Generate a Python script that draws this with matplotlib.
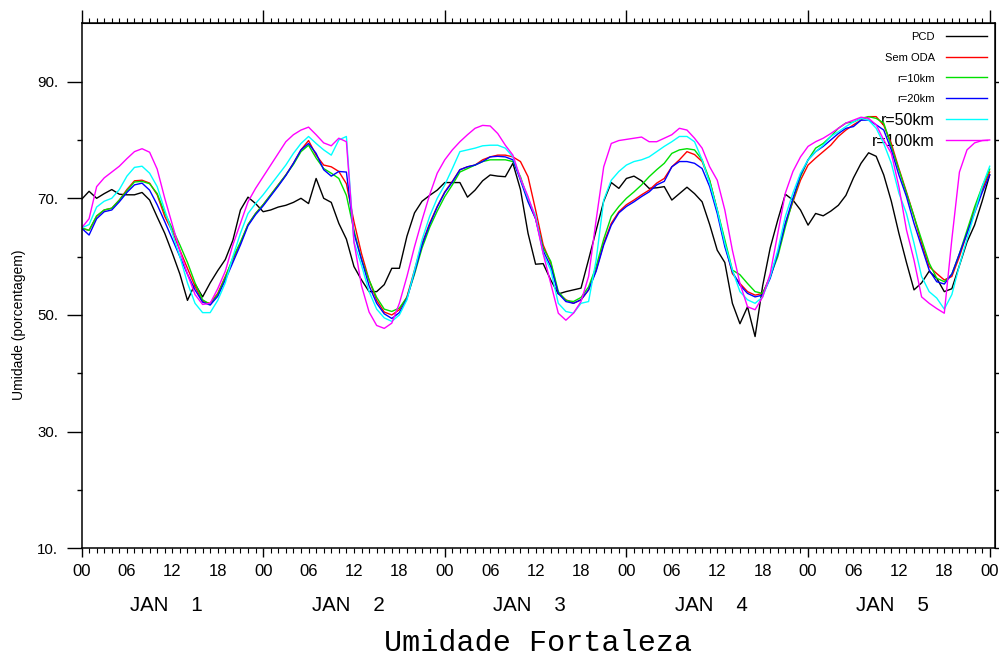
import matplotlib
matplotlib.use('Agg')
import matplotlib.pyplot as plt
import numpy as np
from matplotlib.ticker import FixedLocator, FuncFormatter, NullFormatter
from matplotlib.transforms import offset_copy

plt.rcParams['font.family'] = ['Liberation Sans', 'DejaVu Sans']

# hourly values, 00Z JAN 1 -> 00Z JAN 6
hours = np.arange(121)

pcd = [69.8, 71.2, 70.0, 70.8, 71.5, 70.7, 70.6, 70.6, 71.0, 69.7, 66.8, 64.0,
       60.6, 57.0, 52.5, 55.3, 53.1, 55.5, 57.6, 59.5, 62.8, 68.0, 70.2, 69.1,
       67.7, 68.0, 68.5, 68.8, 69.3, 70.0, 69.1, 73.4, 70.0, 69.3, 65.7, 63.0,
       58.3, 56.0, 54.0, 54.0, 55.2, 58.0, 58.0, 63.5, 67.5, 69.5, 70.5, 71.4,
       72.7, 72.7, 72.7, 70.2, 71.4, 73.0, 74.0, 73.8, 73.7, 76.0, 71.5, 64.0,
       58.7, 58.8, 56.0, 53.6, 54.0, 54.3, 54.6, 59.5, 64.5, 69.5, 72.7, 71.7,
       73.4, 73.8, 73.0, 71.7, 71.8, 72.0, 69.7, 70.8, 71.9, 70.8, 69.4, 65.5,
       61.1, 59.0, 52.0, 48.5, 51.4, 46.3, 55.0, 61.5, 66.3, 70.7, 69.7, 68.0,
       65.4, 67.4, 67.0, 67.8, 68.8, 70.5, 73.5, 76.0, 77.8, 77.2, 74.0, 69.5,
       64.0, 59.0, 54.3, 55.5, 57.5, 56.3, 54.0, 54.5, 58.5, 62.5, 65.4, 69.5,
       74.0]

sem_oda = [64.9, 64.5, 66.9, 68.0, 68.3, 69.7, 71.5, 73.0, 73.1, 72.6, 70.6, 66.9,
           64.3, 61.1, 58.0, 54.9, 52.3, 52.0, 53.7, 56.6, 59.5, 62.3, 65.5, 67.4,
           68.9, 70.6, 72.3, 74.0, 76.0, 78.3, 79.9, 77.4, 75.7, 75.4, 74.6, 72.5,
           66.0, 60.5, 56.0, 52.5, 50.5, 50.0, 50.9, 53.1, 57.7, 62.3, 65.7, 68.6,
           71.1, 72.9, 74.9, 75.4, 75.7, 76.6, 77.1, 77.4, 77.4, 77.1, 76.3, 73.7,
           68.0, 62.0, 58.9, 53.7, 52.6, 52.0, 52.6, 54.3, 57.7, 62.3, 65.7, 67.7,
           68.9, 69.7, 70.6, 71.4, 72.6, 73.4, 75.4, 76.6, 78.0, 77.5, 76.3, 73.0,
           68.0, 62.3, 57.1, 55.4, 54.0, 53.4, 53.7, 56.6, 60.6, 65.7, 69.4, 73.1,
           75.7, 76.9, 78.0, 79.1, 80.6, 81.7, 82.6, 83.4, 84.0, 84.0, 82.5, 79.4,
           75.1, 71.1, 66.9, 62.3, 58.3, 57.1, 56.0, 56.6, 60.0, 64.0, 68.0, 71.5,
           74.5]

r10 = [64.9, 64.5, 67.0, 68.0, 68.3, 69.7, 71.3, 72.8, 72.9, 72.5, 70.8, 67.5,
       64.8, 62.0, 59.0, 55.5, 52.6, 51.8, 53.5, 56.4, 59.8, 62.5, 65.5, 67.4,
       68.9, 70.6, 72.3, 74.0, 75.8, 78.0, 79.1, 76.9, 75.1, 74.3, 73.4, 70.5,
       64.5, 59.5, 56.0, 53.0, 51.0, 50.6, 51.2, 53.0, 57.0, 61.5, 65.0, 67.8,
       70.3, 72.3, 74.5, 75.1, 75.7, 76.3, 76.6, 76.6, 76.6, 76.3, 73.7, 69.7,
       66.5, 61.5, 59.2, 54.0, 52.5, 52.3, 53.0, 54.8, 58.3, 63.0, 66.9, 68.6,
       70.0, 71.1, 72.3, 73.7, 74.9, 76.0, 77.7, 78.3, 78.5, 78.3, 76.6, 73.1,
       68.0, 62.9, 57.7, 56.9, 55.4, 54.0, 53.7, 56.6, 60.0, 65.1, 69.7, 73.7,
       76.6, 78.6, 79.4, 80.6, 82.0, 82.9, 83.1, 83.7, 84.0, 83.7, 82.9, 78.9,
       74.9, 70.9, 66.9, 62.9, 58.9, 56.3, 55.7, 57.0, 60.5, 64.5, 68.5, 72.0,
       75.0]

r20 = [64.9, 63.7, 66.5, 67.7, 68.0, 69.4, 71.0, 72.3, 72.6, 71.4, 68.9, 66.0,
       63.0, 60.0, 57.0, 54.3, 52.2, 51.7, 53.2, 56.0, 59.0, 62.0, 65.3, 67.2,
       68.7, 70.4, 72.1, 73.9, 76.0, 78.3, 79.4, 77.7, 74.9, 73.8, 74.6, 74.5,
       64.0, 59.5, 55.0, 52.0, 50.2, 49.4, 50.4, 52.8, 57.3, 62.0, 65.5, 68.5,
       71.0, 72.8, 74.9, 75.4, 75.7, 76.3, 77.1, 77.2, 77.1, 76.6, 73.1, 69.4,
       66.5, 61.0, 58.3, 53.7, 52.3, 52.0, 52.6, 54.3, 57.5, 62.0, 65.4, 67.5,
       68.6, 69.4, 70.3, 71.1, 72.3, 72.9, 75.4, 76.3, 76.3, 76.0, 75.1, 72.0,
       67.4, 61.7, 57.4, 55.1, 53.7, 53.1, 53.4, 56.3, 60.6, 65.7, 70.0, 74.0,
       76.6, 78.0, 78.9, 80.0, 81.1, 82.0, 82.3, 83.4, 83.4, 82.6, 81.7, 78.3,
       74.0, 70.3, 65.7, 61.7, 57.7, 55.7, 55.3, 57.0, 60.5, 64.0, 67.5, 71.0,
       74.0]

r50 = [64.9, 65.5, 68.5, 69.5, 70.0, 71.5, 73.8, 75.3, 75.5, 74.3, 72.0, 68.0,
       64.0, 60.0, 55.5, 52.0, 50.4, 50.4, 52.5, 55.5, 60.0, 64.0, 67.4, 69.1,
       70.6, 72.3, 74.0, 75.7, 77.7, 79.4, 80.6, 79.4, 78.3, 77.4, 80.0, 80.6,
       62.5, 58.5, 54.0, 51.0, 49.5, 48.9, 50.0, 52.6, 57.7, 62.9, 66.9, 70.0,
       72.3, 75.1, 78.0, 78.3, 78.6, 79.0, 79.1, 79.1, 78.6, 77.1, 73.4, 70.0,
       67.0, 60.5, 57.7, 52.0, 50.6, 50.3, 52.0, 52.3, 59.4, 69.7, 73.1, 74.6,
       75.7, 76.3, 76.6, 77.1, 78.0, 78.9, 79.7, 80.6, 80.6, 79.7, 76.6, 72.6,
       68.0, 62.3, 57.7, 54.0, 52.6, 52.0, 53.1, 56.6, 61.1, 66.9, 70.9, 74.3,
       76.6, 78.0, 79.1, 80.6, 81.4, 82.3, 83.1, 83.7, 83.4, 82.0, 79.4, 76.0,
       70.9, 67.4, 62.3, 56.6, 54.0, 52.9, 51.0, 53.5, 58.5, 63.0, 67.5, 72.0,
       75.5]

r100 = [64.9, 66.5, 72.0, 73.5, 74.5, 75.5, 76.8, 78.0, 78.5, 77.9, 75.0, 70.0,
        65.5, 61.0, 57.0, 53.5, 51.8, 52.0, 54.5, 57.5, 62.0, 65.7, 69.4, 71.7,
        73.7, 75.7, 77.7, 79.7, 80.9, 81.7, 82.2, 80.9, 79.5, 79.0, 80.3, 79.7,
        62.5, 55.0, 50.5, 48.2, 47.7, 48.6, 52.0, 56.6, 61.7, 66.3, 70.6, 74.3,
        76.6, 78.3, 79.7, 80.9, 82.0, 82.5, 82.4, 81.1, 79.1, 77.4, 73.4, 70.3,
        66.5, 60.5, 55.4, 50.3, 49.1, 50.3, 52.3, 56.6, 66.3, 75.4, 79.4, 79.9,
        80.1, 80.3, 80.5, 79.7, 79.7, 80.3, 80.9, 82.0, 81.7, 80.3, 78.6, 75.4,
        73.1, 68.0, 61.1, 55.4, 51.4, 50.9, 53.1, 57.1, 64.0, 70.9, 74.6, 77.1,
        78.9, 79.7, 80.3, 81.1, 82.0, 82.9, 83.4, 83.9, 83.7, 82.6, 80.0, 77.7,
        72.0, 64.6, 59.4, 53.1, 52.0, 51.1, 50.3, 63.0, 74.5, 78.3, 79.5, 79.9,
        80.0]

series_names = ['PCD', 'Sem ODA', 'r=10km', 'r=20km', 'r=50km', 'r=100km']
series_colors = ['black', '#ff0000', '#00e000', '#0000ff', '#00ffff', '#ff00ff']
day_labels = ['JAN    1', 'JAN    2', 'JAN    3', 'JAN    4', 'JAN    5']
day_starts = [0, 24, 48, 72, 96, 120]
y_labeled = [10, 30, 50, 70, 90]

fig = plt.figure(figsize=(9.99, 6.59), dpi=100)
fig.patch.set_facecolor('white')
ax = fig.add_axes([81.5 / 999, 110.7 / 659, 913.5 / 999, 525 / 659])

all_series = [pcd, sem_oda, r10, r20, r50, r100]
for vals, col in zip(all_series, series_colors):
    ax.plot(hours, vals, color=col, linewidth=1.0, zorder=2)

ax.set_xlim(0, 120.7)
ax.set_ylim(10, 100)

for sp in ax.spines.values():
    sp.set_linewidth(1.1)

# x axis: long ticks at 00, hourly small ticks, labels every 6 h
minor_hours = [h for h in hours if h not in day_starts]
ax.xaxis.set_major_locator(FixedLocator(day_starts))
ax.xaxis.set_major_formatter(FuncFormatter(lambda v, p: '%02d' % (int(round(v)) % 24)))
ax.xaxis.set_minor_locator(FixedLocator(minor_hours))
ax.xaxis.set_minor_formatter(FuncFormatter(
    lambda v, p: '%02d' % (int(round(v)) % 24) if int(round(v)) % 6 == 0 else ''))
ax.tick_params(axis='x', which='major', direction='out', length=6.5, width=1,
               pad=5, labelsize=12)
ax.tick_params(axis='x', which='minor', direction='out', length=3.6, width=0.8,
               pad=7.9, labelsize=12)

secx = ax.secondary_xaxis('top')
secx.xaxis.set_major_locator(FixedLocator(day_starts))
secx.xaxis.set_minor_locator(FixedLocator(minor_hours))
secx.xaxis.set_major_formatter(NullFormatter())
secx.xaxis.set_minor_formatter(NullFormatter())
secx.tick_params(which='major', direction='out', length=9.4, width=1)
secx.tick_params(which='minor', direction='out', length=3.6, width=0.8)

# y axis
ax.set_yticks(y_labeled)
ax.set_yticklabels(['%d.' % v for v in y_labeled])
ax.yaxis.set_minor_locator(FixedLocator([20, 40, 60, 80]))
ax.tick_params(axis='y', which='major', direction='out', length=10.6, width=1,
               pad=6.3, labelsize=10.8)
ax.tick_params(axis='y', which='minor', direction='out', length=3.6, width=1)

secy = ax.secondary_yaxis('right')
secy.yaxis.set_major_locator(FixedLocator(y_labeled + [20, 40, 60, 80]))
secy.yaxis.set_major_formatter(NullFormatter())
secy.tick_params(direction='out', length=3, width=1)

# day names under the hour labels
for d, lab in zip(day_starts, day_labels):
    ax.text(d + 11.2, -0.109, lab, transform=ax.get_xaxis_transform(),
            ha='center', va='center', fontsize=14.8)

fig.text(19 / 999, 1 - 325 / 659, 'Umidade (porcentagem)', rotation=90,
         ha='center', va='center', fontsize=10)

fig.text(538 / 999, 8 / 659, 'Umidade Fortaleza', ha='center', va='baseline',
         family=['Liberation Mono', 'DejaVu Sans Mono'], fontsize=21.7)

# legend drawn in the upper right corner, like the GrADS one
leg_sizes = [8, 8, 8, 8, 11.5, 11.5]
for i, (name, col, fs) in enumerate(zip(series_names, series_colors, leg_sizes)):
    yy = 0.9764 - i * 0.0398
    ax.plot([0.9464, 0.9912], [yy, yy], transform=ax.transAxes, color=col,
            linewidth=1.0, clip_on=False, zorder=2)
    tr = offset_copy(ax.transAxes, fig=fig, y=-fs * 0.729 / 2, units='points')
    ax.text(0.9343, yy, name, transform=tr, ha='right', va='baseline',
            fontsize=fs, zorder=1)

plt.savefig('out.png', dpi=100, facecolor='white')
plt.close()
